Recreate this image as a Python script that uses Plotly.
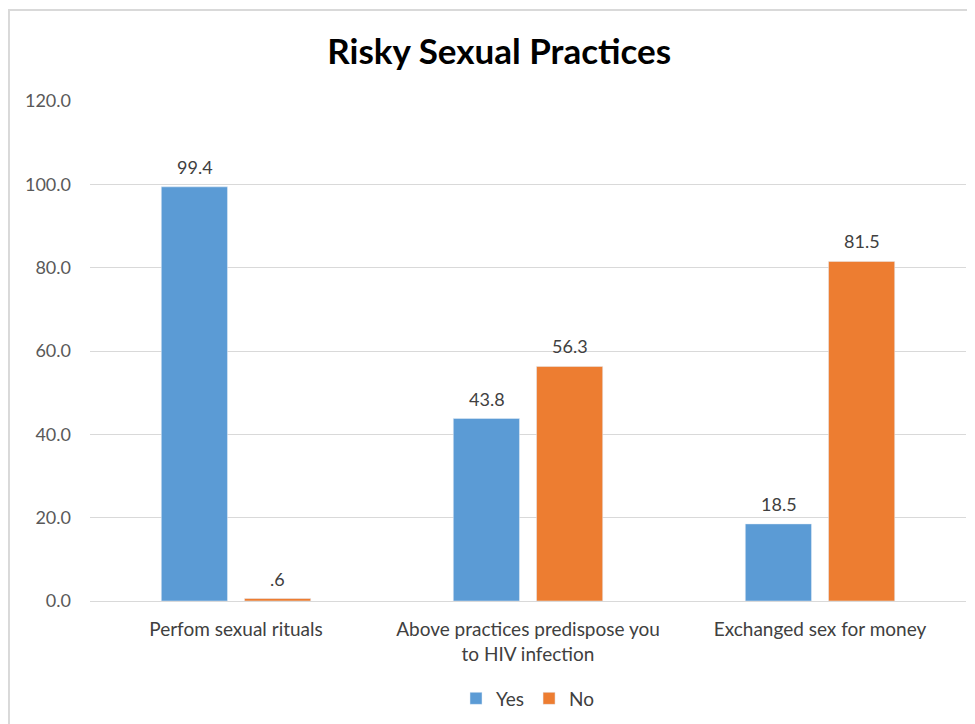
import plotly.graph_objects as go

categories = ["Perfom sexual rituals", "Above practices predispose you<br>to HIV infection", "Exchanged sex for money"]
yes_values = [99.4, 43.8, 18.5]
no_values = [0.6, 56.3, 81.5]
yes_labels = ["99.4", "43.8", "18.5"]
no_labels = [".6", "56.3", "81.5"]
tick_vals = [0, 20, 40, 60, 80, 100, 120]
tick_text = ["0.0", "20.0", "40.0", "60.0", "80.0", "100.0", "120.0"]

FONT = "Lato"
YES_COLOR = "#5B9BD5"
NO_COLOR = "#ED7D31"

fig = go.Figure()
fig.add_trace(go.Bar(name="Yes", x=categories, y=yes_values, marker_color=YES_COLOR))
fig.add_trace(go.Bar(name="No", x=categories, y=no_values, marker_color=NO_COLOR))

annotations = []
for series, labels, shift in ((yes_values, yes_labels, -41.5), (no_values, no_labels, 41.5)):
    for cat, val, lab in zip(categories, series, labels):
        annotations.append(dict(x=cat, y=val, xref="x", yref="y", text=lab, showarrow=False,
                                xshift=shift, yshift=20, yanchor="middle", xanchor="center",
                                font=dict(size=18, color="#404040", family=FONT)))

fig.update_layout(
    width=967, height=716,
    margin=dict(l=82, r=9, t=93, b=123, autoexpand=False),
    paper_bgcolor="white", plot_bgcolor="white",
    barmode="group", bargap=0.43, bargroupgap=0.205,
    title=dict(text="<b>Risky Sexual Practices</b>", x=0.508, xanchor="center",
               y=0.9385, yanchor="middle",
               font=dict(size=35, color="#000000", family=FONT)),
    font=dict(family=FONT, color="#404040"),
    legend=dict(orientation="h", x=0.5, xanchor="center", y=-0.195, yanchor="middle",
                font=dict(size=19, color="#404040", family=FONT), traceorder="normal",
                itemwidth=30),
    xaxis=dict(showline=False, ticks="", ticklabelstandoff=15,
               tickfont=dict(size=19, color="#404040", family=FONT)),
    yaxis=dict(range=[0, 120], tickvals=tick_vals, ticktext=tick_text,
               showgrid=True, gridcolor="#D9D9D9", gridwidth=1,
               zeroline=True, zerolinecolor="#D9D9D9", zerolinewidth=1,
               ticks="", ticklabelstandoff=18,
               tickfont=dict(size=18, color="#595959", family=FONT)),
    annotations=annotations,
    shapes=[dict(type="rect", xref="paper", yref="paper",
                 x0=-0.0925, x1=1.2, y0=-0.5, y1=1.182,
                 line=dict(color="#D9D9D9", width=2), fillcolor="rgba(0,0,0,0)", layer="below")],
)

fig.write_html("out.html")
